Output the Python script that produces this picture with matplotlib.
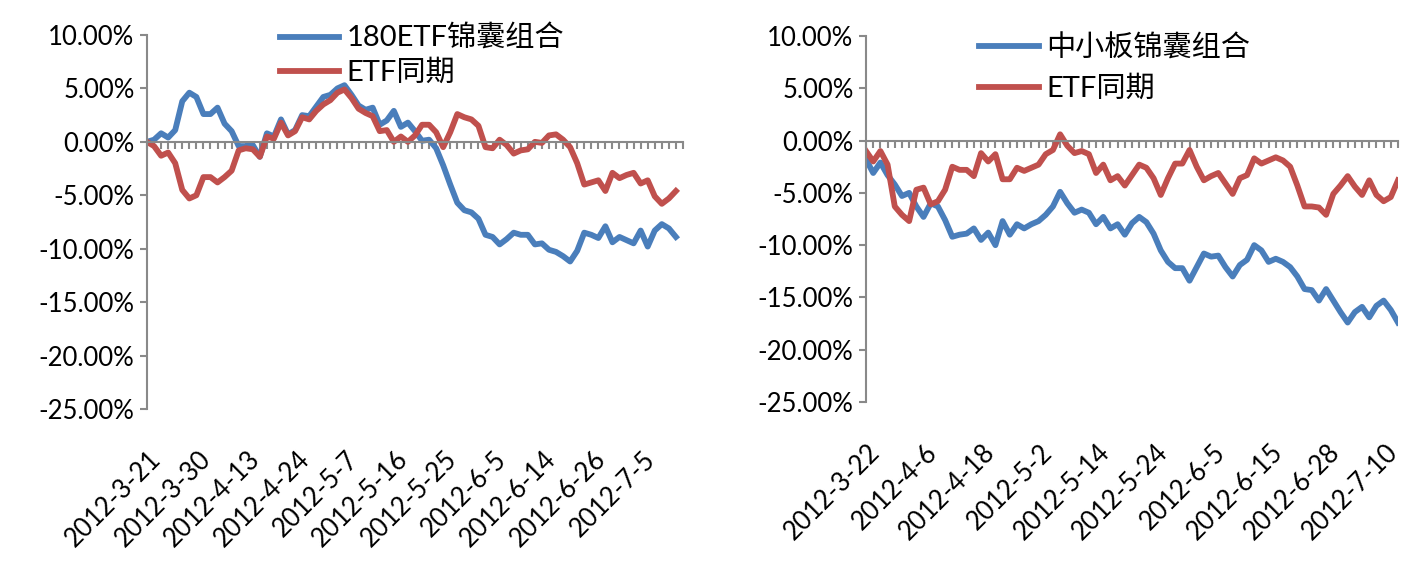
import matplotlib
matplotlib.use("Agg")
import matplotlib.pyplot as plt
import numpy as np

plt.rcParams['font.family'] = ['Lato', 'Noto Sans CJK SC', 'DejaVu Sans']

# Left panel: 180ETF
left_labels = ['2012-3-21', '2012-3-30', '2012-4-13', '2012-4-24', '2012-5-7', '2012-5-16',
               '2012-5-25', '2012-6-5', '2012-6-14', '2012-6-26', '2012-7-5']
left_label_step = 7
left_portfolio = [0, 0.2, 0.8, 0.4, 1.1, 3.8, 4.6, 4.2, 2.6, 2.6,
                  3.2, 1.7, 1.0, -0.4, -0.4, -0.3, -1.4, 0.8, 0.5, 2.1,
                  0.7, 1.1, 2.5, 2.4, 3.3, 4.2, 4.4, 5.0, 5.3, 4.4,
                  3.4, 3.0, 3.2, 1.6, 2.0, 2.9, 1.4, 1.8, 1.0, 0.1,
                  0.2, -0.6, -2.2, -4.0, -5.7, -6.4, -6.6, -7.2, -8.7, -8.9,
                  -9.6, -9.1, -8.5, -8.7, -8.7, -9.6, -9.5, -10.1, -10.3, -10.7,
                  -11.2, -10.2, -8.5, -8.7, -9.0, -7.9, -9.4, -8.9, -9.2, -9.5,
                  -8.3, -9.8, -8.3, -7.7, -8.1, -8.9]
left_etf = [0, -0.4, -1.3, -1.0, -2.0, -4.5, -5.3, -5.0, -3.3, -3.3,
            -3.8, -3.3, -2.7, -0.8, -0.6, -0.7, -1.4, 0.5, 0.3, 1.8,
            0.6, 1.0, 2.3, 2.1, 2.9, 3.5, 3.9, 4.6, 4.9, 4.1,
            3.1, 2.7, 2.4, 1.0, 1.1, 0.0, 0.5, 0.0, 0.6, 1.6,
            1.6, 0.9, -0.5, 0.9, 2.6, 2.3, 2.1, 1.5, -0.5, -0.6,
            0.2, -0.3, -1.1, -0.8, -0.7, 0.0, -0.1, 0.6, 0.7, 0.2,
            -0.5, -2.0, -4.0, -3.8, -3.6, -4.6, -2.9, -3.4, -3.1, -2.9,
            -3.9, -3.6, -5.1, -5.8, -5.3, -4.6]
left_names = ['180ETF锦囊组合', 'ETF同期']

# Right panel: SME board
right_labels = ['2012-3-22', '2012-4-6', '2012-4-18', '2012-5-2', '2012-5-14',
                '2012-5-24', '2012-6-5', '2012-6-15', '2012-6-28', '2012-7-10']
right_label_step = 8
right_portfolio = [-1.8, -3.1, -2.1, -3.3, -4.2, -5.3, -5.0, -6.3, -7.3, -6.0,
                   -6.3, -7.6, -9.2, -9.0, -8.9, -8.4, -9.5, -8.8, -10.0, -7.7,
                   -9.0, -8.0, -8.4, -8.0, -7.7, -7.1, -6.3, -4.9, -6.0, -6.9,
                   -6.6, -6.9, -8.0, -7.3, -8.4, -8.0, -9.0, -7.9, -7.3, -7.8,
                   -8.9, -10.5, -11.6, -12.2, -12.2, -13.4, -12.1, -10.8, -11.1, -11.0,
                   -12.1, -13.0, -11.9, -11.4, -10.0, -10.5, -11.6, -11.3, -11.6, -12.1,
                   -13.0, -14.2, -14.3, -15.3, -14.2, -15.3, -16.4, -17.4, -16.4, -15.9,
                   -16.9, -15.8, -15.3, -16.2, -17.4]
right_etf = [-1.0, -2.0, -1.0, -2.3, -6.3, -7.1, -7.7, -4.7, -4.5, -6.1,
             -5.8, -4.7, -2.5, -2.8, -2.8, -3.4, -1.2, -2.0, -1.3, -3.7,
             -3.7, -2.6, -2.9, -2.6, -2.3, -1.3, -0.9, 0.6, -0.5, -1.2,
             -1.0, -1.3, -3.1, -2.3, -3.8, -3.4, -4.3, -3.3, -2.3, -2.6,
             -3.6, -5.2, -3.6, -2.2, -2.2, -0.9, -2.5, -3.8, -3.4, -3.1,
             -4.1, -5.1, -3.6, -3.3, -1.7, -2.2, -1.9, -1.6, -1.9, -2.5,
             -4.3, -6.3, -6.3, -6.4, -7.1, -5.1, -4.3, -3.4, -4.4, -5.2,
             -3.8, -5.2, -5.8, -5.4, -3.8]
right_names = ['中小板锦囊组合', 'ETF同期']

yticks = [-25, -20, -15, -10, -5, 0, 5, 10]

BLUE = '#4a7ebb'
RED = '#c0504d'
GREY = '#898989'

fig = plt.figure(figsize=(14.19, 5.67), dpi=100)


def draw(rect, port, etf, names, labels, step, xmax, leg_anchor, leg_space):
    ax = fig.add_axes(rect)
    x = np.arange(len(port))
    ax.plot(x, port, color=BLUE, lw=4.2, label=names[0], solid_joinstyle='round')
    ax.plot(x, etf, color=RED, lw=4.2, label=names[1], solid_joinstyle='round')
    ax.set_xlim(0, xmax)
    ax.set_ylim(-25, 10)
    ax.set_yticks(yticks)
    ax.set_yticklabels(['%.2f%%' % v for v in yticks], fontsize=18.5)
    ax.set_xticks(np.arange(0, xmax + 1))
    ax.tick_params(axis='x', direction='out', length=5, width=1.5, color=GREY,
                   labelbottom=False)
    ax.tick_params(axis='y', direction='out', length=5, width=1.5, color=GREY, pad=4)
    for s in ['top', 'right']:
        ax.spines[s].set_visible(False)
    ax.spines['bottom'].set_position(('data', 0))
    for s in ['bottom', 'left']:
        ax.spines[s].set_color(GREY)
        ax.spines[s].set_linewidth(1.5)
    for k, lab in enumerate(labels):
        ax.annotate(lab, xy=(k * step, 0), xycoords=('data', 'axes fraction'),
                    xytext=(1, -27), textcoords='offset points', rotation=45,
                    ha='right', va='top', rotation_mode='anchor', fontsize=18.5)
    ax.legend(loc='upper left', bbox_to_anchor=leg_anchor, bbox_transform=fig.transFigure,
              frameon=False, fontsize=21, handlelength=2.05, handletextpad=0.25,
              labelspacing=leg_space, borderaxespad=0, borderpad=0)
    return ax


draw([0.1036, 0.2787, 0.3777, 0.6596], left_portfolio, left_etf, left_names,
     left_labels, left_label_step, len(left_portfolio), (0.197, 0.956), 0.25)
draw([0.6103, 0.2910, 0.3749, 0.6455], right_portfolio, right_etf, right_names,
     right_labels, right_label_step, len(right_portfolio) - 1, (0.69, 0.94), 0.49)

fig.savefig('out.png', dpi=100)
